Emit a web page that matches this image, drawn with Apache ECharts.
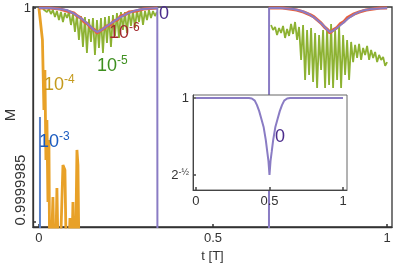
<!DOCTYPE html>
<html><head><meta charset="utf-8">
<script src="https://cdn.jsdelivr.net/npm/echarts@6/dist/echarts.min.js"></script>
<style>html,body{margin:0;padding:0;background:#fff}#c{width:399px;height:266px}</style>
</head><body><div id="c"></div>
<script>
// ---- data (t [T], M) ----
const xTicks = [0, 0.5, 1];
const yTicksMain = [1];
const yLabelLow = '0.9999985';
const yName = 'M';
const insetXTicks = [0, 0.5, 1];
const insetYTicks = [0.7071, 1];

const curve0 = [[0,1.0],[0.032,1.0],[0.060,0.999999993],[0.080,0.999999986],[0.103,0.999999958],[0.126,0.999999919],[0.147,0.999999874],[0.158,0.999999846],[0.167,0.999999832],[0.177,0.999999842],[0.187,0.999999860],[0.204,0.999999888],[0.227,0.999999925],[0.253,0.999999961],[0.276,0.999999982],[0.299,0.999999993],[0.340,1.0],[0.342,0.99999],
  [0.659,0.99999],[0.661,1.0],[0.693,1.0],[0.730,0.999999993],[0.755,0.999999979],[0.775,0.999999958],[0.795,0.999999925],[0.813,0.999999888],[0.826,0.999999853],[0.836,0.999999832],[0.846,0.999999842],[0.856,0.999999860],[0.870,0.999999888],[0.890,0.999999930],[0.910,0.999999962],[0.930,0.999999982],[0.955,0.999999993],[1.0,1.0]];

const curve6 = [[0,1.0],[0.03,1.0],[0.06,0.999999993],[0.08,0.999999979],[0.10,0.999999965],[0.11,0.999999944],[0.12,0.999999930],[0.13,0.999999902],[0.14,0.999999888],[0.15,0.999999860],[0.16,0.999999846],[0.167,0.999999825],[0.175,0.999999839],[0.185,0.999999853],[0.195,0.999999874],[0.205,0.999999881],[0.215,0.999999909],[0.225,0.999999916],[0.235,0.999999944],[0.245,0.999999951],[0.26,0.999999972],[0.28,0.999999979],[0.30,0.999999993],[0.34,1.0],null,
  [0.66,1.0],[0.70,1.0],[0.74,0.999999986],[0.76,0.999999972],[0.78,0.999999951],[0.79,0.999999937],[0.80,0.999999916],[0.81,0.999999895],[0.82,0.999999867],[0.83,0.999999846],[0.836,0.999999825],[0.845,0.999999846],[0.855,0.999999860],[0.865,0.999999888],[0.875,0.999999902],[0.885,0.999999930],[0.895,0.999999944],[0.905,0.999999958],[0.92,0.999999972],[0.94,0.999999986],[0.96,0.999999993],[0.98,1.0],[1.0,1.0]];

const curve5 = [[0.0115,0.999999993],[0.0172,0.999999986],[0.0230,0.999999972],[0.0287,0.999999993],[0.0345,0.999999958],[0.0402,0.999999986],[0.0460,0.999999937],[0.0517,0.999999979],[0.0575,0.999999916],[0.0632,0.999999972],[0.0690,0.999999902],[0.0747,0.999999965],[0.0805,0.999999930],[0.0862,0.999999972],[0.0920,0.999999881],[0.0977,0.999999958],[0.1034,0.999999832],[0.1092,0.999999951],[0.1149,0.999999776],[0.1207,0.999999944],[0.1264,0.999999727],[0.1322,0.999999937],[0.1379,0.999999685],[0.1437,0.999999923],[0.1494,0.999999762],[0.1552,0.999999930],[0.1609,0.999999671],[0.1667,0.999999916],[0.1724,0.999999720],[0.1782,0.999999930],[0.1839,0.999999685],[0.1897,0.999999937],[0.1954,0.999999755],[0.2011,0.999999944],[0.2069,0.999999727],[0.2126,0.999999951],[0.2184,0.999999804],[0.2241,0.999999965],[0.2299,0.999999790],[0.2356,0.999999972],[0.2414,0.999999846],[0.2471,0.999999972],[0.2529,0.999999825],[0.2586,0.999999979],[0.2644,0.999999874],[0.2701,0.999999979],[0.2759,0.999999860],[0.2816,0.999999986],[0.2874,0.999999902],[0.2931,0.999999993],[0.2989,0.999999881],[0.3046,0.999999979],[0.3103,0.999999916],[0.3161,0.999999986],[0.3218,0.999999930],[0.3276,0.999999979],[0.3333,0.999999944],[0.3391,0.999999972],null,
  [0.6667,0.999999881],[0.6724,0.999999846],[0.6782,0.999999867],[0.6839,0.999999811],[0.6897,0.999999860],[0.6954,0.999999825],[0.7011,0.999999874],[0.7069,0.999999790],[0.7126,0.999999853],[0.7184,0.999999804],[0.7241,0.999999888],[0.7299,0.999999818],[0.7356,0.999999902],[0.7414,0.999999776],[0.7471,0.999999867],[0.7529,0.999999636],[0.7586,0.999999881],[0.7644,0.999999495],[0.7701,0.999999846],[0.7759,0.999999530],[0.7816,0.999999860],[0.7874,0.999999481],[0.7931,0.999999825],[0.7989,0.999999439],[0.8046,0.999999811],[0.8103,0.999999565],[0.8161,0.999999846],[0.8218,0.999999439],[0.8276,0.999999860],[0.8333,0.999999460],[0.8391,0.999999888],[0.8448,0.999999439],[0.8506,0.999999846],[0.8563,0.999999495],[0.8621,0.999999874],[0.8678,0.999999439],[0.8736,0.999999811],[0.8793,0.999999530],[0.8851,0.999999776],[0.8908,0.999999495],[0.8966,0.999999762],[0.9023,0.999999621],[0.9080,0.999999741],[0.9138,0.999999650],[0.9195,0.999999748],[0.9253,0.999999636],[0.9310,0.999999720],[0.9368,0.999999671],[0.9425,0.999999734],[0.9483,0.999999636],[0.9540,0.999999706],[0.9598,0.999999650],[0.9655,0.999999692],[0.9713,0.999999621],[0.9770,0.999999671],[0.9828,0.999999636],[0.9885,0.999999657],[0.9943,0.999999594],[1.0,0.999999621]];

const curve4 = [[0,1.0],[0.0101,0.999999776],[0.0144,0.999999285],[0.0172,0.999999565],[0.0201,0.999998934],[0.0230,0.999999215],[0.0259,0.999998640],[0.0287,0.999999075],[0.0316,0.99999795],[0.0402,0.999998675],[0.0460,0.99999795],[0.0517,0.999998738],[0.0575,0.99999795],[0.0690,0.999998899],[0.0747,0.999998864],[0.0805,0.99999795],[0.0891,0.999998528],[0.0920,0.99999795],[0.0977,0.99999864],[0.1034,0.99999795],[0.1092,0.999999005],[0.1121,0.999998899],[0.1164,0.99999795]];

const curve3 = [[0.003,0.999999236],[0.003,0.99999795]];

const inset0 = [[0,1],[0.36,1],[0.38,0.998],[0.40,0.99],[0.415,0.973],[0.43,0.95],[0.445,0.92],[0.46,0.89],[0.475,0.84],[0.485,0.795],[0.493,0.76],[0.5,0.7071],[0.507,0.76],[0.515,0.795],[0.525,0.84],[0.54,0.89],[0.555,0.92],[0.57,0.95],[0.585,0.973],[0.60,0.99],[0.62,0.998],[0.64,1],[1,1]];
const refLevel = 0.7071;

// ---- chart ----
const FF = '"Liberation Sans", Arial, sans-serif';
const AX = '#333';
const C0 = '#8a7cc4', C6 = '#e8603c', C5 = '#8db232', C4 = '#e8a128', C3 = '#5b82c8';
const chart = echarts.init(document.getElementById('c'), null, {renderer: 'canvas'});

function lbl(x, y, base, sup, color) {
  return {type: 'text', x: x, y: y, z: 50, style: {
    text: sup ? '{b|' + base + '}{s|' + sup + '}' : base,
    fill: color, fontFamily: FF, fontSize: 18,
    rich: {b: {fontSize: 18, fill: color, fontFamily: FF, lineHeight: 22},
           s: {fontSize: 12, fill: color, fontFamily: FF, verticalAlign: 'top', lineHeight: 12}}
  }};
}

chart.setOption({
  animation: false,
  grid: [
    {left: 33, right: 7, top: 7, bottom: 39, show: true, borderColor: AX, borderWidth: 1.3, backgroundColor: '#fff', z: 0, outerBoundsMode: 'none', containLabel: false},
    {left: 193, right: 52, top: 95, bottom: 76, show: true, borderColor: '#666', borderWidth: 1, backgroundColor: '#fff', z: 10, outerBoundsMode: 'none', containLabel: false}
  ],
  xAxis: [
    {gridIndex: 0, type: 'value', min: -0.017, max: 1.014,
     axisLine: {show: true, onZero: false, lineStyle: {color: AX, width: 1.3}},
     axisTick: {show: true, inside: true, length: 3, customValues: xTicks, lineStyle: {color: AX, width: 1.5}},
     axisLabel: {customValues: xTicks, color: AX, fontSize: 13, fontFamily: FF, margin: 5, formatter: v => String(v)},
     splitLine: {show: false},
     name: 't [T]', nameLocation: 'middle', nameGap: 23, nameTextStyle: {color: AX, fontSize: 13, fontFamily: FF}},
    {gridIndex: 1, type: 'value', min: -0.02, max: 1.027, z: 11,
     axisLine: {show: true, onZero: false, lineStyle: {color: '#444', width: 1}},
     axisTick: {show: true, inside: true, length: 3, customValues: insetXTicks, lineStyle: {color: '#444', width: 1.5}},
     axisLabel: {customValues: insetXTicks, color: AX, fontSize: 13, fontFamily: FF, margin: 5, formatter: v => String(v)},
     splitLine: {show: false}}
  ],
  yAxis: [
    {gridIndex: 0, type: 'value', min: 0.999998465, max: 1.000000007,
     axisLine: {show: true, onZero: false, lineStyle: {color: AX, width: 1.3}},
     axisTick: {show: true, inside: true, length: 3, customValues: [1, 0.9999985], lineStyle: {color: AX, width: 1.5}},
     axisLabel: {customValues: yTicksMain, color: AX, fontSize: 13, fontFamily: FF, margin: 2, formatter: () => '1'},
     splitLine: {show: false}},
    {gridIndex: 1, type: 'value', min: 0.650, max: 1.0114, z: 11,
     axisLine: {show: true, onZero: false, lineStyle: {color: '#444', width: 1}},
     axisTick: {show: true, inside: true, length: 3, customValues: insetYTicks, lineStyle: {color: '#444', width: 1.5}},
     axisLabel: {customValues: insetYTicks, color: AX, fontSize: 13, fontFamily: FF, margin: 4,
       formatter: v => v > 0.9 ? '1' : '2{s|-½}',
       rich: {s: {fontSize: 9, color: AX, fontFamily: FF, verticalAlign: 'top', lineHeight: 10}}},
     splitLine: {show: false}}
  ],
  series: [
    {type: 'line', xAxisIndex: 0, yAxisIndex: 0, data: curve3, symbol: 'none', z: 2, lineStyle: {color: C3, width: 2}},
    {type: 'line', xAxisIndex: 0, yAxisIndex: 0, data: curve4, symbol: 'none', z: 2, lineStyle: {color: C4, width: 2.8}},
    {type: 'line', xAxisIndex: 0, yAxisIndex: 0, data: curve5, symbol: 'none', z: 2, lineStyle: {color: C5, width: 1.8}},
    {type: 'line', xAxisIndex: 0, yAxisIndex: 0, data: curve6, symbol: 'none', z: 2, lineStyle: {color: C6, width: 3.2}},
    {type: 'line', xAxisIndex: 0, yAxisIndex: 0, data: curve0, symbol: 'none', z: 3, lineStyle: {color: C0, width: 2}},
    {type: 'line', xAxisIndex: 1, yAxisIndex: 1, data: inset0, symbol: 'none', z: 12, lineStyle: {color: C0, width: 2},
     markLine: {silent: true, symbol: ['none', 'none'], label: {show: false}, lineStyle: {color: '#222', type: [3, 2], width: 1.5},
       data: [{yAxis: refLevel}]}}
  ],
  graphic: [
    {type: 'text', x: 21, y: 190, rotation: Math.PI / 2, z: 50,
     style: {text: yLabelLow, fill: AX, fontSize: 15, fontFamily: FF, align: 'center', verticalAlign: 'middle'}},
    {type: 'text', x: 11, y: 115, rotation: Math.PI / 2, z: 50,
     style: {text: yName, fill: AX, fontSize: 15, fontFamily: FF, align: 'center', verticalAlign: 'middle'}},
    lbl(159, 5, '0', '', '#4b2c8c'),
    lbl(109, 22, '10', '-6', '#a3282d'),
    lbl(97, 55, '10', '-5', '#3d8f1f'),
    lbl(44, 74, '10', '-4', '#c49a1c'),
    lbl(39, 131, '10', '-3', '#1a5bbf'),
    lbl(275, 128, '0', '', '#4b2c8c')
  ]
});
</script></body></html>
